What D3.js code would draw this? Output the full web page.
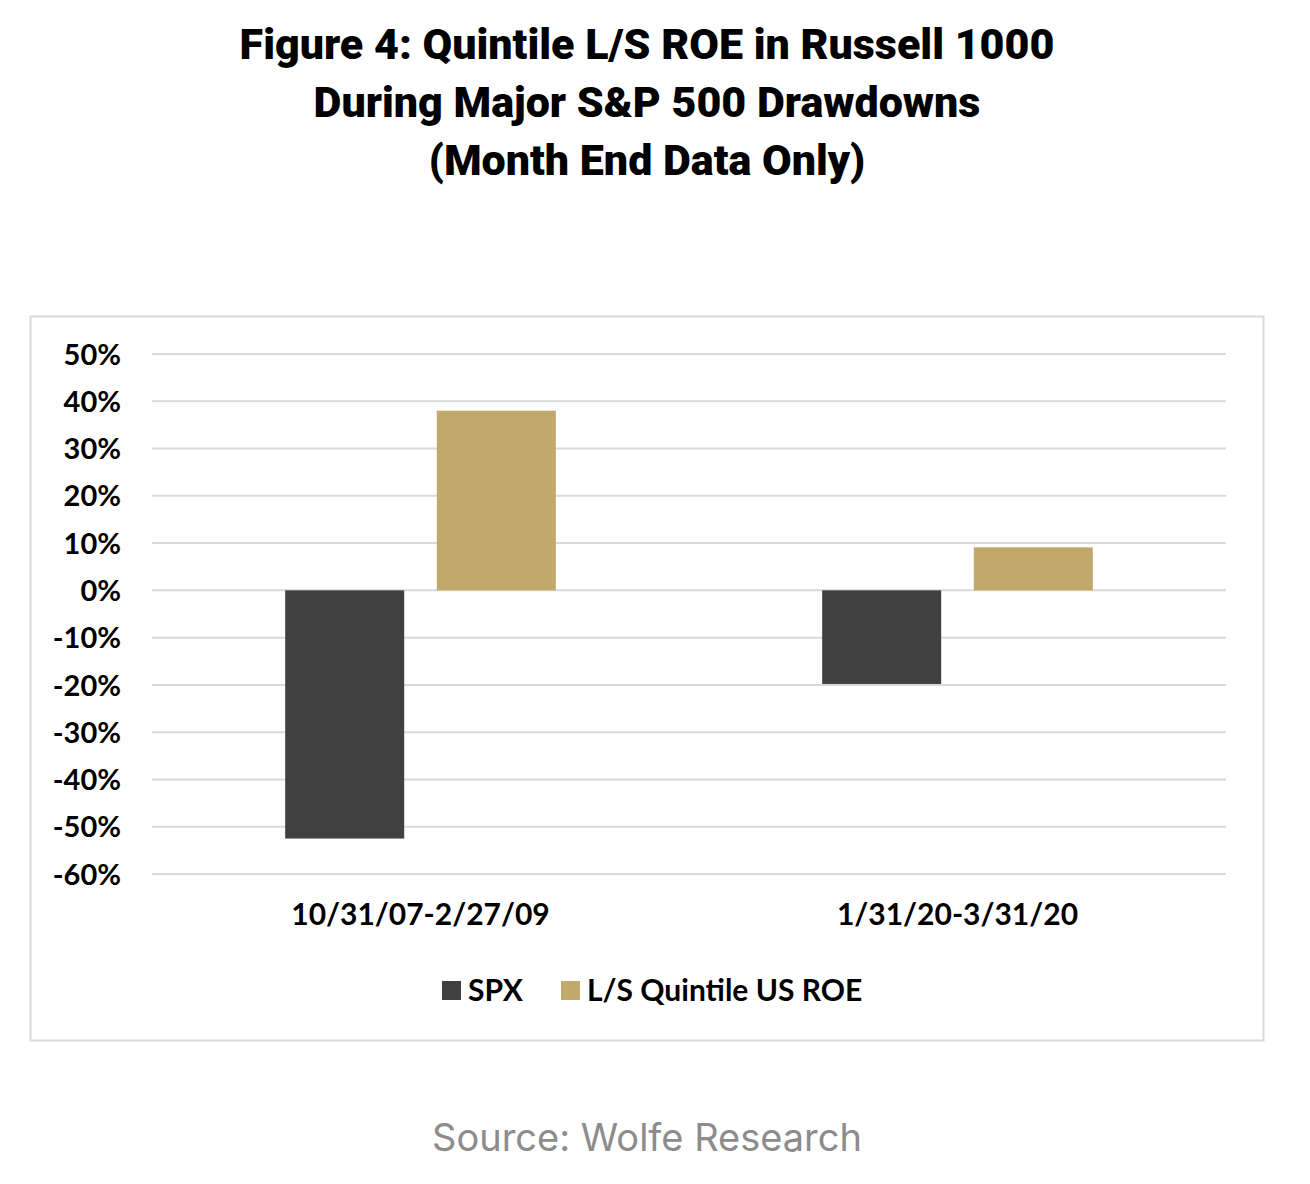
<!DOCTYPE html>
<html>
<head>
<meta charset="utf-8">
<script src="https://cdn.jsdelivr.net/npm/d3@7"></script>
<style>
  body { margin: 0; background: #fff; }
  .title { font-family: Roboto, sans-serif; font-weight: 900; font-size: 43px; fill: #000; }
  .axis text, .legend text { font-family: Lato, sans-serif; font-weight: 700; fill: #000; }
  .source { font-family: Inter, sans-serif; font-size: 38px; fill: #8c8c8c; }
</style>
</head>
<body>
<div id="graph"></div>
<script>
/*
    Data for the plot
*/
var categories = ["10/31/07-2/27/09", "1/31/20-3/31/20"]
var series = ["SPX", "L/S Quintile US ROE"]
var spxValues = [-0.525, -0.198]
var roeValues = [0.38, 0.091]
var yTicks = [0.5, 0.4, 0.3, 0.2, 0.1, 0, -0.1, -0.2, -0.3, -0.4, -0.5, -0.6]
var titleLines = [
    "Figure 4: Quintile L/S ROE in Russell 1000",
    "During Major S&P 500 Drawdowns",
    "(Month End Data Only)"
]

var data = categories.map(function (c, i) {
    return { "cat": c, "values": [spxValues[i], roeValues[i]] }
})

var colors = ["#404040", "#c1a86b"]

var svg = d3.select("#graph").append("svg")
    .attr("width", 1310)
    .attr("height", 1184)

// Titles
svg.selectAll("text.title")
    .data(titleLines)
    .enter().append("text")
    .attr("class", "title")
    .attr("x", 647)
    .attr("y", function (d, i) { return 59 + i * 58 })
    .attr("text-anchor", "middle")
    .text(function (d) { return d })

// Chart frame
svg.append("rect")
    .attr("x", 30.5).attr("y", 316.5)
    .attr("width", 1233).attr("height", 724)
    .attr("fill", "none")
    .attr("stroke", "#d9d9d9")
    .attr("stroke-width", 2)

var margin = { top: 354, left: 152 },
    width = 1226 - 152,
    height = 874 - 354

var g = svg.append("g")
    .attr("transform", "translate(" + margin.left + "," + margin.top + ")")

var x0 = d3.scaleBand()
    .domain(categories)
    .range([0, width])
    .paddingInner(0)
    .paddingOuter(0)

var x1 = d3.scaleBand()
    .domain(series)
    .range([x0.bandwidth() * 0.248, x0.bandwidth() * 0.752])
    .paddingInner(0.215)

var y = d3.scaleLinear()
    .domain([-0.6, 0.5])
    .range([height, 0])

// Excel style percent, plain hyphen for negatives
var pct = function (d) { return Math.round(d * 100) + "%" }

// Gridlines
g.append("g")
    .selectAll("line")
    .data(yTicks)
    .enter().append("line")
    .attr("x1", 0).attr("x2", width)
    .attr("y1", function (d) { return y(d) })
    .attr("y2", function (d) { return y(d) })
    .attr("stroke", "#d9d9d9")
    .attr("stroke-width", 2)

// Y axis
var yAxis = g.append("g")
    .attr("class", "axis")
    .call(d3.axisLeft(y).tickValues(yTicks).tickFormat(pct).tickSize(0).tickPadding(31))
yAxis.select(".domain").remove()
yAxis.selectAll("text").style("font-size", "29px").attr("dy", "0.35em")

// Bars
var groups = g.selectAll("g.group")
    .data(data)
    .enter().append("g")
    .attr("class", "group")
    .attr("transform", function (d) { return "translate(" + x0(d.cat) + ",0)" })

groups.selectAll("rect")
    .data(function (d) { return d.values.map(function (v, i) { return { key: series[i], value: v, i: i } }) })
    .enter().append("rect")
    .attr("x", function (d) { return x1(d.key) })
    .attr("width", x1.bandwidth())
    .attr("y", function (d) { return y(Math.max(0, d.value)) })
    .attr("height", function (d) { return Math.abs(y(d.value) - y(0)) })
    .attr("fill", function (d) { return colors[d.i] })

// X axis labels
var xAxis = g.append("g")
    .attr("class", "axis")
    .attr("transform", "translate(0," + height + ")")
    .call(d3.axisBottom(x0).tickSize(0).tickPadding(30))
xAxis.select(".domain").remove()
xAxis.selectAll("text").style("font-size", "30px")

// Legend
var legendItems = [
    { label: series[0], color: colors[0], x: 442 },
    { label: series[1], color: colors[1], x: 561 }
]
var legend = svg.append("g").attr("class", "legend")
legend.selectAll("rect")
    .data(legendItems)
    .enter().append("rect")
    .attr("x", function (d) { return d.x })
    .attr("y", 981)
    .attr("width", 19).attr("height", 19)
    .attr("fill", function (d) { return d.color })
legend.selectAll("text")
    .data(legendItems)
    .enter().append("text")
    .attr("x", function (d) { return d.x + 26 })
    .attr("y", 990)
    .attr("dy", "0.35em")
    .style("font-size", "30px")
    .text(function (d) { return d.label })

// Source
svg.append("text")
    .attr("class", "source")
    .attr("x", 647)
    .attr("y", 1151)
    .attr("text-anchor", "middle")
    .text("Source: Wolfe Research")
</script>
</body>
</html>
